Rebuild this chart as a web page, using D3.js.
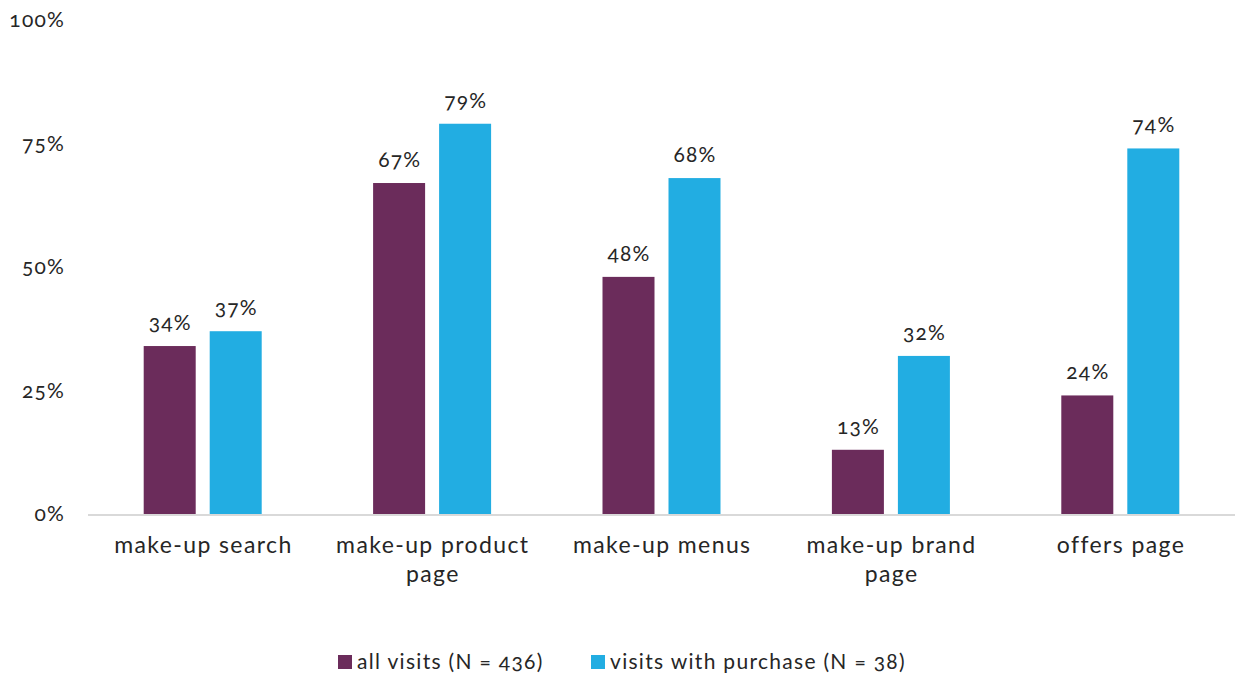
<!DOCTYPE html>
<html>
<head>
<meta charset="utf-8">
<script src="https://cdn.jsdelivr.net/npm/d3@7"></script>
<style>
  html, body { margin: 0; padding: 0; background: #fff; }
  svg text { font-family: Lato, "Open Sans", sans-serif; fill: #262626; font-feature-settings: "onum"; }
</style>
</head>
<body>
<svg id="chart" width="1243" height="677"></svg>
<script>
// Share of visits reaching each make-up page
const categories = [
  ["make-up search"],
  ["make-up product", "page"],
  ["make-up menus"],
  ["make-up brand", "page"],
  ["offers page"]
];
const seriesNames = ["all visits (N = 436)", "visits with purchase (N = 38)"];
const allVisits = [34, 67, 48, 13, 24];
const visitsWithPurchase = [37, 79, 68, 32, 74];
const yTicks = [0, 25, 50, 75, 100];
const colors = ["#6B2C5B", "#22ADE2"];

const svg = d3.select("#chart");
const margin = { left: 88, right: 8, top: 20, bottom: 163 };
const W = 1243, H = 677;

const x = d3.scaleBand()
  .domain(d3.range(categories.length))
  .range([margin.left, W - margin.right])
  .paddingInner(0).paddingOuter(0);

const y = d3.scaleLinear().domain([0, 100]).range([H - margin.bottom, margin.top]);

const barW = 52, gap = 14;
const sub = d3.scaleOrdinal().domain([0, 1]).range([-(gap / 2 + barW), gap / 2]);

// y-axis tick labels
svg.append("g").selectAll("text")
  .data(yTicks).join("text")
  .attr("x", 65)
  .attr("y", d => y(d))
  .attr("dy", "0.35em")
  .attr("text-anchor", "end")
  .style("font-size", "21px")
  .style("letter-spacing", "1.2px")
  .text(d => d + "%");

// bars
const series = [allVisits, visitsWithPurchase];
series.forEach((vals, s) => {
  const g = svg.append("g");
  g.selectAll("rect").data(vals).join("rect")
    .attr("x", (d, i) => x(i) + x.bandwidth() / 2 + sub(s))
    .attr("y", d => y(d))
    .attr("width", barW)
    .attr("height", d => y(0) - y(d))
    .attr("fill", colors[s]);
  g.selectAll("text").data(vals).join("text")
    .attr("x", (d, i) => x(i) + x.bandwidth() / 2 + sub(s) + barW / 2 + 0.6)
    .attr("y", d => y(d) - 16)
    .attr("text-anchor", "middle")
    .style("font-size", "21px")
    .style("letter-spacing", "1.2px")
    .text(d => d + "%");
});

// baseline
svg.append("line")
  .attr("x1", margin.left).attr("x2", W - margin.right)
  .attr("y1", y(0) + 1).attr("y2", y(0) + 1)
  .attr("stroke", "#d9d9d9").attr("stroke-width", 2);

// category labels
const cat = svg.append("g").selectAll("text")
  .data(categories).join("text")
  .attr("text-anchor", "middle")
  .style("font-size", "23px")
  .style("letter-spacing", "1.4px")
  .attr("x", (d, i) => x(i) + x.bandwidth() / 2 + 0.7)
  .attr("y", 553);
cat.selectAll("tspan").data(d => d).join("tspan")
  .attr("x", function () { return d3.select(this.parentNode).attr("x"); })
  .attr("dy", (d, i) => i === 0 ? 0 : 29)
  .text(d => d);

// legend
const legend = svg.append("g");
const legendX = [338, 591];
seriesNames.forEach((name, s) => {
  legend.append("rect")
    .attr("x", legendX[s]).attr("y", 655)
    .attr("width", 14).attr("height", 14)
    .attr("fill", colors[s]);
  legend.append("text")
    .attr("x", legendX[s] + 19).attr("y", 662)
    .attr("dy", "0.35em")
    .style("font-size", "21px")
    .style("letter-spacing", "1.3px")
    .text(name);
});
</script>
</body>
</html>
